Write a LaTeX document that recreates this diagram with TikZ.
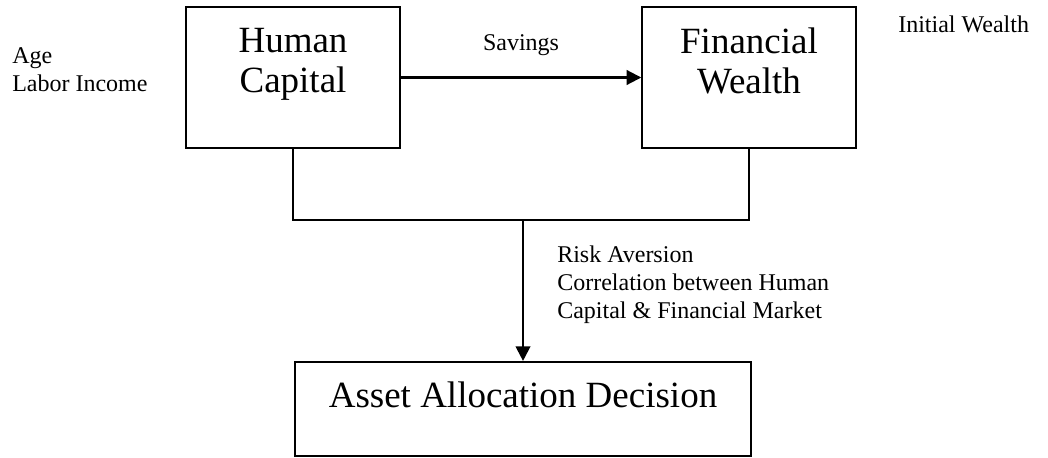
\documentclass[tikz,border=0pt]{standalone}
\usepackage{fontspec}
\setmainfont{Liberation Serif}
\usetikzlibrary{arrows.meta,positioning}

\begin{document}
\begin{tikzpicture}[x=0.75pt,y=-0.75pt]
    \newcommand{\topwidth}[0]{160pt}
    \newcommand{\topheight}[0]{106pt}

    \tikzstyle{dedge} = [line width=1.6pt,-{Triangle[length=11pt,width=11pt]},draw=black]
    \tikzstyle{link} = [line width=1.6pt,draw=black]

    \tikzstyle{frame}=[
      rectangle,
      draw=black,
      line width=1.6pt,
      inner sep=0pt,
      minimum width=\topwidth,
      minimum height=\topheight,
    ]
    \tikzstyle{bigtext}=[
      font=\fontsize{27.75}{30}\selectfont,
      align=center,
      anchor=north,
      inner sep=0pt,
    ]
    \tikzstyle{factor}=[
      font=\fontsize{18}{21}\selectfont,
      align=left,
      anchor=north west,
      inner sep=0pt,
    ]

    \useasboundingbox (0,0) rectangle (1048,457);

    \node[frame] (human) at (293,77.5) {};
    \node[frame] (wealth) at (749,77.5) {};
    \node[frame,minimum width=342pt,minimum height=70.5pt] (decision) at (523,409) {};

    \node[bigtext,below=16.5pt of human.north] (humantext) {Human\\Capital};
    \node[bigtext,below=16.5pt of wealth.north] (wealthtext) {Financial\\Wealth};
    \node[bigtext,below=15.75pt of decision.north] (decisiontext) {Asset Allocation Decision};

    \node[factor] (agefactors) at (12,47) {Age\\Labor Income};
    \node[factor] (initfactors) at (898,16) {Initial Wealth};
    \node[factor] (riskfactors) at (557,246) {Risk Aversion\\Correlation between Human\\Capital \& Financial Market};

    \coordinate (join) at (decision.north |- 0,220);

    \draw[dedge] (human.east) -- (wealth.west)
              node[midway,above=15.5pt,font=\fontsize{18}{21}\selectfont,inner sep=0pt] (savings) {Savings}
    ;
    \draw[link] (human.south) |- (join) -| (wealth.south);
    \draw[dedge] (join) -- (decision.north);
  \end{tikzpicture}
\end{document}
